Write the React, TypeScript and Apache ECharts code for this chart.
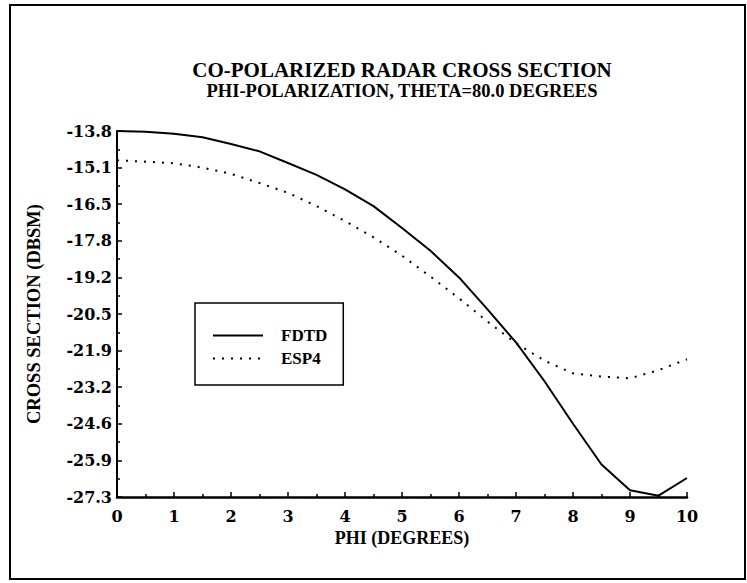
import React, { useEffect, useRef } from "react";
import * as echarts from "echarts";

const titleText = "CO-POLARIZED RADAR CROSS SECTION";
const subtitleText = "PHI-POLARIZATION, THETA=80.0 DEGREES";
const xAxisName = "PHI (DEGREES)";
const yAxisName = "CROSS SECTION (DBSM)";
const seriesNames = ["FDTD", "ESP4"];

const phi = [0, 0.5, 1, 1.5, 2, 2.5, 3, 3.5, 4, 4.5, 5, 5.5, 6, 6.5, 7, 7.5, 8, 8.5, 9, 9.5, 10];
const fdtd = [
  -13.8, -13.83, -13.9, -14.03, -14.28, -14.55, -14.98, -15.42, -15.95, -16.57, -17.38,
  -18.22, -19.2, -20.38, -21.6, -23.03, -24.6, -26.1, -27.05, -27.25, -26.6,
];
const esp4 = [
  -14.88, -14.93, -14.99, -15.15, -15.38, -15.72, -16.08, -16.57, -17.12, -17.72, -18.4,
  -19.17, -19.97, -20.83, -21.63, -22.27, -22.74, -22.86, -22.92, -22.62, -22.22,
];

const yTickLabels = [
  "-27.3", "-25.9", "-24.6", "-23.2", "-21.9", "-20.5", "-19.2", "-17.8", "-16.5", "-15.1", "-13.8",
];
const yMin = -27.3;
const yMax = -13.8;
const yStep = 1.35;
const xMin = 0;
const xMax = 10;
const xStep = 1;

export default function App() {
  const ref = useRef<HTMLDivElement>(null);
  useEffect(() => {
    if (!ref.current) return;
    const chart = echarts.init(ref.current, null, { renderer: "svg" });
    const serif = "'Liberation Serif', 'Times New Roman', serif";
    const tickFont = "'DejaVu Serif', serif";
    chart.setOption({
      animation: false,
      backgroundColor: "#ffffff",
      grid: { left: 117, right: 60, top: 131, bottom: 86, containLabel: false },
      legend: {
        orient: "vertical",
        left: 195,
        top: 303,
        padding: [24, 16, 18, 17],
        borderColor: "#000",
        borderWidth: 1.5,
        itemWidth: 50,
        itemHeight: 14,
        itemGap: 6,
        data: seriesNames,
        itemStyle: { opacity: 0 },
        textStyle: {
          fontFamily: serif,
          fontWeight: "bold",
          fontSize: 17,
          color: "#000",
          padding: [0, 0, 0, 13],
        },
      },
      xAxis: {
        type: "value",
        min: xMin,
        max: xMax,
        interval: xStep,
        name: xAxisName,
        nameLocation: "middle",
        nameGap: 30,
        nameTextStyle: { fontFamily: serif, fontWeight: "bold", fontSize: 18, color: "#000" },
        axisLine: { lineStyle: { color: "#000", width: 2.5 } },
        axisTick: { inside: true, length: 5, lineStyle: { color: "#000", width: 1.5 } },
        minorTick: { show: true, splitNumber: 2, length: 3, lineStyle: { color: "#000", width: 1.5 } },
        splitLine: { show: false },
        minorSplitLine: { show: false },
        axisLabel: {
          margin: 11,
          fontFamily: tickFont,
          fontWeight: "bold",
          fontSize: 16,
          color: "#000",
        },
      },
      yAxis: {
        type: "value",
        min: yMin,
        max: yMax,
        interval: yStep,
        name: yAxisName,
        nameLocation: "middle",
        nameGap: 74,
        nameRotate: 90,
        nameTextStyle: { fontFamily: serif, fontWeight: "bold", fontSize: 18.5, color: "#000" },
        axisLine: { show: true, lineStyle: { color: "#000", width: 2 } },
        axisTick: { show: true, inside: true, length: 5, lineStyle: { color: "#000", width: 1.5 } },
        minorTick: { show: true, splitNumber: 2, length: 3, lineStyle: { color: "#000", width: 1.5 } },
        splitLine: { show: false },
        minorSplitLine: { show: false },
        axisLabel: {
          margin: 5,
          fontFamily: tickFont,
          fontWeight: "bold",
          fontSize: 16,
          color: "#000",
          formatter: (v: number) => {
            const i = Math.round((v - yMin) / yStep);
            return yTickLabels[i] ?? "";
          },
        },
      },
      series: [
        {
          name: seriesNames[0],
          type: "line",
          data: phi.map((x, i) => [x, fdtd[i]]),
          symbol: "none",
          itemStyle: { color: "#000" },
          lineStyle: { color: "#000", width: 2 },
        },
        {
          name: seriesNames[1],
          type: "line",
          data: phi.map((x, i) => [x, esp4[i]]),
          symbol: "none",
          itemStyle: { color: "#000" },
          lineStyle: { color: "#000", width: 2, type: [2, 7] },
        },
      ],
      graphic: [
        {
          type: "rect",
          shape: { x: 10, y: 5, width: 735, height: 574 },
          style: { fill: "none", stroke: "#000", lineWidth: 2 },
          silent: true,
        },
        {
          type: "text",
          x: 402,
          y: 70,
          style: {
            text: titleText,
            textAlign: "center",
            textVerticalAlign: "middle",
            font: `bold 21px ${serif}`,
            fill: "#000",
          },
        },
        {
          type: "text",
          x: 402,
          y: 91,
          style: {
            text: subtitleText,
            textAlign: "center",
            textVerticalAlign: "middle",
            font: `bold 18.5px ${serif}`,
            fill: "#000",
          },
        },
      ],
    });
    return () => chart.dispose();
  }, []);
  return (
    <div
      ref={ref}
      style={{ position: "fixed", left: 0, top: 0, width: 747, height: 583, background: "#fff" }}
    />
  );
}
